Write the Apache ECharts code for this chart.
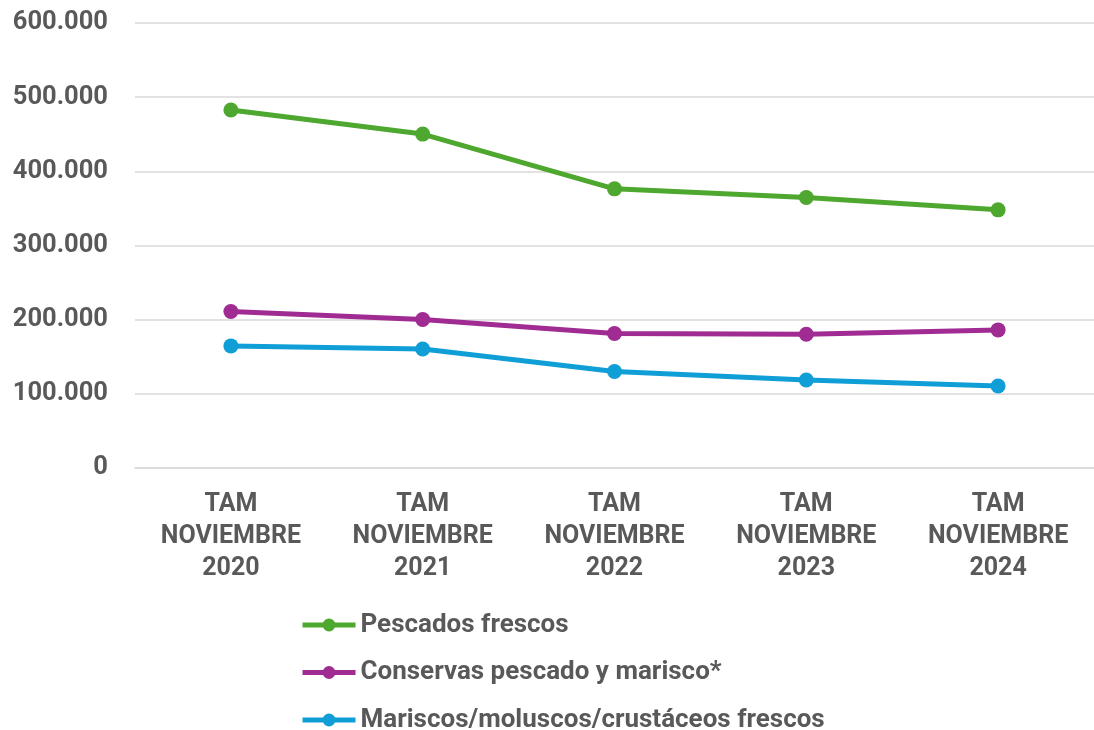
<!DOCTYPE html>
<html>
<head>
<meta charset="utf-8">
<script src="https://cdn.jsdelivr.net/npm/echarts@6/dist/echarts.min.js"></script>
<style>
  html, body { margin: 0; padding: 0; background: #ffffff; }
  #chart { width: 1094px; height: 730px; }
</style>
</head>
<body>
<div id="chart"></div>
<script>
// Categories (x axis)
const categories = [
  'TAM\nNOVIEMBRE\n2020',
  'TAM\nNOVIEMBRE\n2021',
  'TAM\nNOVIEMBRE\n2022',
  'TAM\nNOVIEMBRE\n2023',
  'TAM\nNOVIEMBRE\n2024'
];

// Series names
const seriesNames = [
  'Pescados frescos',
  'Conservas pescado y marisco*',
  'Mariscos/moluscos/crustáceos frescos'
];

// Series values
const pescadosFrescos = [482600, 450200, 376400, 364800, 348100];
const conservas = [211000, 200200, 181300, 180400, 186200];
const mariscosFrescos = [164600, 160500, 130100, 118700, 110600];

// Y axis range
const yMin = 0;
const yMax = 600000;
const yStep = 100000;

const colors = ['#4EA72E', '#A02B93', '#0F9ED5'];
const seriesData = [pescadosFrescos, conservas, mariscosFrescos];

const fontFamily = 'Roboto, "Noto Sans", sans-serif';
const textColor = '#595959';

function thousands(v) {
  return String(v).replace(/\B(?=(\d{3})+(?!\d))/g, '.');
}

const chart = echarts.init(document.getElementById('chart'), null, { renderer: 'canvas' });

chart.setOption({
  backgroundColor: '#ffffff',
  animation: false,
  color: colors,
  grid: { left: 135, right: -9, top: 23, bottom: 262, containLabel: false },
  xAxis: {
    type: 'category',
    data: categories,
    boundaryGap: true,
    axisLine: { show: true, lineStyle: { color: '#d9d9d9', width: 1.5 } },
    axisTick: { show: false },
    axisLabel: {
      color: textColor,
      fontFamily: fontFamily,
      fontWeight: 'bold',
      fontSize: 25,
      lineHeight: 32,
      margin: 21,
      interval: 0
    }
  },
  yAxis: {
    type: 'value',
    min: yMin,
    max: yMax,
    interval: yStep,
    axisLine: { show: false },
    axisTick: { show: false },
    splitLine: { lineStyle: { color: '#d9d9d9', width: 1.5 } },
    axisLabel: {
      color: textColor,
      fontFamily: fontFamily,
      fontWeight: 'bold',
      fontSize: 25.5,
      margin: 27,
      formatter: thousands
    }
  },
  legend: {
    orient: 'vertical',
    left: 300,
    top: 612,
    height: 160,
    padding: 0,
    itemWidth: 53,
    itemHeight: 16,
    itemGap: 21.5,
    lineStyle: { width: 5 },
    textStyle: {
      color: textColor,
      fontFamily: fontFamily,
      fontWeight: 'bold',
      fontSize: 26,
      lineHeight: 26
    },
    data: seriesNames
  },
  series: seriesNames.map((name, i) => ({
    name: name,
    type: 'line',
    data: seriesData[i],
    symbol: 'circle',
    symbolSize: 15,
    lineStyle: { width: 5, color: colors[i] },
    itemStyle: { color: colors[i] }
  }))
});
</script>
</body>
</html>
